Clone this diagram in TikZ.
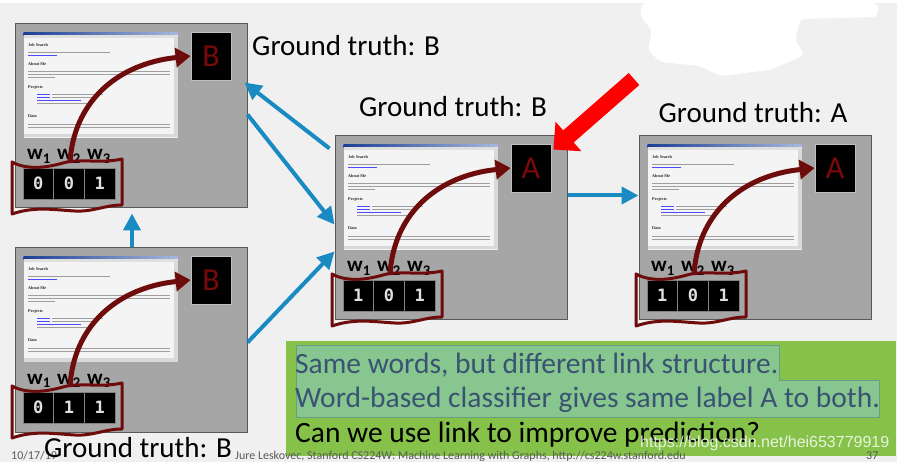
\documentclass[tikz,border=0pt]{standalone}
\usepackage{fontspec}
\setmainfont{Carlito}
\newfontfamily\digitfont{DejaVu Sans Mono}
\newfontfamily\shotfont{Liberation Serif}
\newfontfamily\wmfont{Liberation Sans}
\usetikzlibrary{arrows.meta}
\definecolor{bg}{HTML}{F0F0F0}
\definecolor{panelgray}{HTML}{A6A6A6}
\definecolor{paneledge}{HTML}{595959}
\definecolor{mymaroon}{HTML}{6E0B0B}
\definecolor{labelred}{HTML}{7A0A0A}
\definecolor{arrowblue}{HTML}{1A8BC2}
\definecolor{slidegreen}{HTML}{86C24A}
\definecolor{hlgreen}{HTML}{88C68F}
\definecolor{hledge}{HTML}{6B9C86}
\definecolor{slate}{HTML}{3A5372}
\definecolor{footgray}{HTML}{595959}
\definecolor{titleblue}{HTML}{1C3F94}
\definecolor{titlelight}{HTML}{A6B8DD}
\definecolor{shotbg}{HTML}{F4F4F4}
\tikzset{
 panelbox/.style={draw=paneledge, line width=1pt, fill=panelgray, minimum width=232pt, minimum height=184pt, inner sep=0pt},
 shotbox/.style={draw=gray!70, line width=0.5pt, fill=shotbg, minimum width=155pt, minimum height=106pt, inner sep=0pt},
 labelbox/.style={draw=gray!50, line width=0.8pt, fill=black, minimum width=40pt, minimum height=48pt, inner sep=0pt, text=labelred, font=\fontsize{32}{32}\selectfont},
 digitbox/.style={draw=gray, line width=0.6pt, fill=black, minimum width=30.7pt, minimum height=31pt, inner sep=0pt, text=white!88!black, font=\digitfont\bfseries\fontsize{17}{17}\selectfont},
 wlabel/.style={font=\bfseries\fontsize{21}{21}\selectfont, inner sep=0pt, anchor=base west},
 banner/.style={draw=mymaroon, line width=3pt, line join=round},
 curvearrow/.style={draw=mymaroon, line width=5pt, -{Triangle[length=15pt,width=19pt]}},
 bluearrow/.style={draw=arrowblue, line width=4pt, -{Triangle[length=17pt,width=17pt]}},
 redarrow/.style={draw=red, line width=16pt, -{Triangle[length=20pt,width=38pt]}},
 gtlabel/.style={font=\fontsize{29}{29}\selectfont, inner sep=0pt, anchor=base},
 heading/.style={font=\shotfont\bfseries\fontsize{4.2}{4.2}\selectfont, inner sep=0pt, anchor=west, text=black!85},
 bodyline/.style={draw=gray!75, line width=0.9pt},
 linkline/.style={draw=blue!70, line width=0.9pt},
 slidetext/.style={font=\fontsize{29.5}{29.5}\selectfont, inner sep=0pt, anchor=base west},
 foot/.style={font=\fontsize{12}{12}\selectfont, text=footgray, inner sep=0pt, anchor=base west},
}
\newcommand\mypanel[7]{%
\begin{scope}[shift={(#2,#3)}]
 \node[panelbox] (#1) at (116,92) {};
 \node[shotbox] (#1s) at (85.5,61) {};
 \shade[left color=titleblue, right color=titlelight] (8.5,8.5) rectangle (162.5,11.5);
 \fill[gray!25] (8.5,11.5) rectangle (162.5,14);
 \fill[gray!30] (158.5,14) rectangle (162.5,110);
 \fill[gray!30] (8.5,110) rectangle (162.5,113.5);
 \node[heading] (#1h1) at (13,21) {Job Search};
 \draw[bodyline] (13,28) -- (95,28);
 \draw[linkline] (13,31) -- (42,31);
 \node[heading] (#1h2) at (13,40) {About Me};
 \draw[bodyline] (13,47) -- (155,47);
 \draw[bodyline] (13,50) -- (155,50);
 \draw[bodyline] (13,53) -- (40,53);
 \node[heading] (#1h3) at (13,63) {Projects};
 \draw[linkline] (22,70) -- (35,70); \draw[bodyline] (37,70) -- (88,70);
 \draw[linkline] (22,73) -- (35,73); \draw[bodyline] (37,73) -- (82,73);
 \draw[linkline] (22,76) -- (66,76);
 \draw[bodyline] (22,79) -- (72,79);
 \node[heading] (#1h4) at (13,92) {Data};
 \draw[bodyline] (13,100) -- (155,100);
 \draw[bodyline] (13,103) -- (155,103);
 \node[labelbox] (#1l) at (196,32) {#4};
 \node[wlabel] (#1w1) at (12,136) {w\textsubscript{1}};
 \node[wlabel] (#1w2) at (42,136) {w\textsubscript{2}};
 \node[wlabel] (#1w3) at (72,136) {w\textsubscript{3}};
 \node[digitbox] (#1d1) at (23.35,159.5) {#5};
 \node[digitbox] (#1d2) at (54.05,159.5) {#6};
 \node[digitbox] (#1d3) at (84.75,159.5) {#7};
 \draw[banner] (-3,138) .. controls (12,146) and (30,144) .. (48,139)
   .. controls (65,134) and (85,140) .. (107,135) -- (107,181)
   .. controls (90,181) and (78,188) .. (60,187)
   .. controls (40,186) and (20,182) .. (-3,190) -- cycle;
 \draw[curvearrow] (55,139) .. controls (58,80) and (100,40) .. (#1l.west);
\end{scope}}
\begin{document}
\begin{tikzpicture}[x=1pt,y=-1pt]
\useasboundingbox (0,0) rectangle (897,462);
\fill[bg] (0,0) rectangle (897,462);
\fill[white] (0,0) rectangle (897,3);
\fill[white, rounded corners=5pt] (641,3) -- (878,3) -- (878,17) -- (800,19) -- (795,40) -- (805,55) -- (770,70) -- (720,76) -- (700,66) -- (660,62) -- (648,50) -- (652,30) -- (641,18) -- cycle;

\mypanel{p1}{15}{24}{B}{0}{0}{1}
\mypanel{p2}{15}{248}{B}{0}{1}{1}
\mypanel{p3}{335}{136}{A}{1}{0}{1}
\mypanel{p4}{639}{136}{A}{1}{0}{1}

\draw[bluearrow] ([xshift=1pt]p2.north) -- ([xshift=1pt,yshift=-5pt]p1.south);
\draw[bluearrow] ([xshift=-5pt,yshift=-13pt]p3.north west) -- ([xshift=-3pt,yshift=-59pt]p1.north east);
\draw[bluearrow] ([yshift=-91pt]p1.north east) -- ([yshift=-89pt]p3.north west);
\draw[bluearrow] ([yshift=-95pt]p2.north east) -- ([yshift=-116pt]p3.north west);
\draw[bluearrow] ([yshift=-60pt]p3.north east) -- ([yshift=-60pt]p4.north west);

\coordinate (redtail) at (634,79);
\draw[redarrow] (redtail) -- ([xshift=2pt,yshift=-6pt]p3l.north east);

\node[gtlabel, anchor=base west] (gt1) at (252,56) {Ground truth: B};
\node[gtlabel] (gt3) at (453,117) {Ground truth: B};
\node[gtlabel] (gt4) at (753,123) {Ground truth: A};

\node[fill=slidegreen, minimum width=610pt, minimum height=115pt, inner sep=0pt] (gb) at (591,398.5) {};
\draw[fill=hlgreen, draw=hledge, line width=0.8pt] (296,345) -- (779,345) -- (779,380) -- (879,380) -- (879,417) -- (296,417) -- cycle;
\node[slidetext, text=slate] (t1) at (295,373) {Same words, but different link structure.};
\node[slidetext, text=slate] (t2) at (295,407) {Word-based classifier gives same label A to both.};
\node[slidetext, text=black] (t3) at (295,442) {Can we use link to improve prediction?};

\node[foot] (f1) at (11,459) {10/17/19};
\node[gtlabel] (gt2) at (138,457) {Ground truth: B};
\node[foot] (f2) at (235,459) {Jure Leskovec, Stanford CS224W: Machine Learning with Graphs, http://cs224w.stanford.edu};
\node[foot] (f3) at (866,459) {37};
\node[font=\wmfont\fontsize{16}{16}\selectfont, text=white, text opacity=0.8, inner sep=0pt, anchor=base west] (wm) at (640,447) {https://blog.csdn.net/hei653779919};
\end{tikzpicture}
\end{document}
